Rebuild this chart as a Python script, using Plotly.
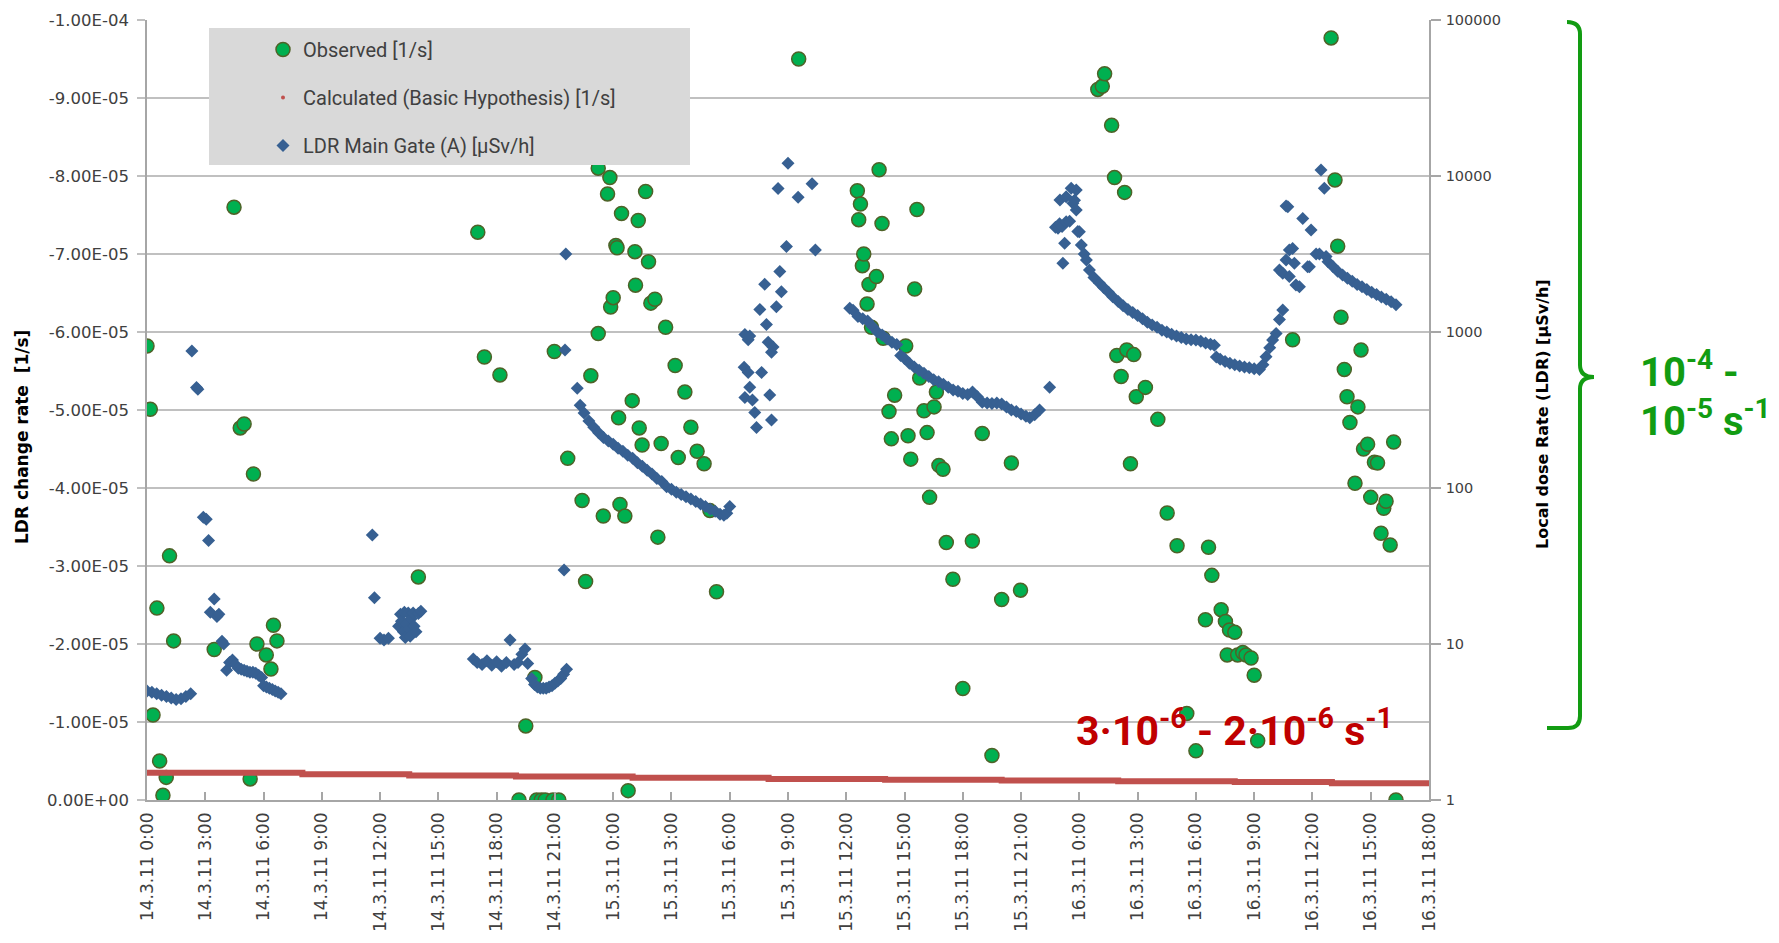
import pandas as pd
import plotly.graph_objects as go

# ---------------- DATA ----------------
START = pd.Timestamp("2011-03-14 00:00")

# Observed LDR change rate, hours after 14.3.11 0:00, values in units of 1e-5 1/s
obs_hours = [0.0, 0.17, 0.31, 0.51, 0.65, 0.82, 0.99, 1.16, 1.37,
             3.46, 4.48, 4.8, 5.0, 5.31, 5.48, 5.66, 6.14, 6.38, 6.51, 6.69,
             13.97,
             17.03, 17.37, 18.17,
             19.15, 19.5, 19.97, 20.06, 20.3, 20.5, 20.9, 21.2,
             20.97, 21.66, 22.4, 22.58, 22.85, 23.23, 23.23, 23.49, 23.71, 23.83, 23.87, 24.0,
             24.14, 24.2, 24.28, 24.35, 24.43, 24.6, 24.77, 24.98, 25.12, 25.15, 25.29, 25.34,
             25.49, 25.67, 25.82, 25.94, 26.15, 26.3, 26.47, 26.7, 27.19, 27.35, 27.69, 28.0,
             28.32, 28.68, 28.98, 29.32,
             33.55,
             36.57, 36.64, 36.73, 36.83, 36.9, 37.07, 37.17, 37.3, 37.55, 37.69, 37.84, 37.9,
             38.2, 38.32, 38.49, 39.06, 39.18, 39.32, 39.52, 39.64, 39.78, 40.0, 40.16, 40.29,
             40.52, 40.64, 40.77, 40.98, 41.15, 41.49, 42.0, 42.49, 43.0, 43.5, 44.0, 44.5, 44.97,
             48.95, 49.18, 49.3, 49.66, 49.81, 49.93, 50.15, 50.33, 50.44, 50.63, 50.8, 50.93,
             51.4, 52.04, 52.52, 53.03, 53.53, 54.0, 54.49, 54.65, 54.82, 55.3, 55.52, 55.61,
             55.73, 56.0, 56.15, 56.41, 56.58, 56.84, 57.0, 57.18,
             58.98, 60.96, 61.16, 61.3, 61.47, 61.64, 61.78, 61.93, 62.19, 62.34, 62.5, 62.63,
             62.84, 63.0, 63.19, 63.35, 63.53, 63.67, 63.79, 64.0, 64.18, 64.3]
obs_rate_1e5 = [-5.82, -5.01, -1.09, -2.46, -0.50, -0.06, -0.29, -3.13, -2.04,
                -1.93, -7.6, -4.77, -4.82, -0.27, -4.18, -2.0, -1.86, -1.68, -2.24, -2.04,
                -2.86,
                -7.28, -5.68, -5.45,
                0.0, -0.95, -1.57, 0.0, 0.0, 0.0, 0.0, 0.0,
                -5.75, -4.38, -3.84, -2.8, -5.44, -5.98, -8.1, -3.64, -7.77, -7.98, -6.32, -6.44,
                -7.11, -7.08, -4.9, -3.79, -7.52, -3.64, -0.12, -5.12, -7.03, -6.6, -7.43, -4.77,
                -4.55, -7.8, -6.9, -6.37, -6.42, -3.37, -4.57, -6.06, -5.57, -4.39, -5.23, -4.78,
                -4.47, -4.31, -3.71, -2.67,
                -9.5,
                -7.81, -7.44, -7.64, -6.85, -7.0, -6.36, -6.61, -6.06, -6.71, -8.08, -7.39, -5.92,
                -4.98, -4.63, -5.19, -5.82, -4.67, -4.37, -6.55, -7.57, -5.41, -4.99, -4.71, -3.88,
                -5.04, -5.23, -4.29, -4.24, -3.3, -2.83, -1.43, -3.32, -4.7, -0.57, -2.57, -4.32, -2.69,
                -9.11, -9.15, -9.31, -8.65, -7.98, -5.7, -5.43, -7.79, -5.77, -4.31, -5.71, -5.17,
                -5.29, -4.88, -3.68, -3.26, -1.11, -0.63, -2.31, -3.24, -2.88, -2.44, -2.29, -1.86,
                -2.18, -2.15, -1.86, -1.89, -1.86, -1.82, -1.6, -0.76,
                -5.9, -9.77, -7.95, -7.1, -6.19, -5.52, -5.17, -4.84, -4.06, -5.04, -5.77, -4.5,
                -4.56, -3.88, -4.33, -4.32, -3.42, -3.74, -3.83, -3.27, -4.59, 0.0]

# Calculated (basic hypothesis), step levels, values in units of 1e-6 1/s
calc_hours = [0, 8, 13.5, 19, 25, 32, 38, 44, 50, 56, 61, 66]
calc_rate_1e6 = [-3.5, -3.3, -3.15, -3.0, -2.85, -2.7, -2.6, -2.5, -2.4, -2.3, -2.15, -2.15]

# LDR Main Gate (A) [uSv/h]
ldr_hours = [0, 0.25, 0.5, 0.75, 1.0, 1.25, 1.5, 1.75, 2.0, 2.25,
             2.31, 2.55, 2.62, 2.9, 3.05, 3.17, 3.26, 3.46, 3.6, 3.7, 3.86, 3.95, 4.1, 4.25,
             4.4, 4.55, 4.7, 4.85, 5.0, 5.15, 5.3, 5.45, 5.6, 5.75, 5.9, 6.0, 6.15, 6.3, 6.45,
             6.6, 6.75, 6.9,
             11.6, 11.71, 12.0, 12.2, 12.43, 12.95, 13.05, 13.1, 13.2, 13.25, 13.3, 13.35, 13.45,
             13.5, 13.55, 13.6, 13.7, 13.75, 13.85, 13.97, 14.1,
             16.8, 17.0, 17.25, 17.5, 17.75, 18.0, 18.25, 18.5, 18.69, 18.9, 19.1, 19.3, 19.46,
             19.6, 19.8, 19.95, 20.1, 20.25, 20.4, 20.55, 20.7, 20.85, 21.0, 21.15, 21.3, 21.45, 21.6,
             21.47, 21.52, 21.56, 22.15, 22.3, 22.5, 22.75, 23.0, 23.25, 23.5, 23.75, 24.0, 24.25,
             24.5, 24.75, 25.0, 25.25, 25.5, 25.75, 26.0, 26.25, 26.5, 26.75, 27.0, 27.25, 27.5,
             27.75, 28.0, 28.25, 28.5, 28.75, 29.0, 29.25, 29.5, 29.7, 29.85, 30.0,
             30.74, 30.78, 30.78, 30.95, 30.95, 31.03, 31.03, 31.17, 31.29, 31.38, 31.55, 31.64,
             31.8, 31.89, 31.98, 32.06, 32.15, 32.15, 32.23, 32.4, 32.49, 32.58, 32.66, 32.92,
             33.0, 33.52, 34.24, 34.41,
             36.18, 36.35, 36.6, 36.85, 37.1, 37.35, 37.6, 37.85, 38.1, 38.35, 38.6, 38.8, 39.0,
             39.25, 39.5, 39.75, 40.0, 40.25, 40.5, 40.75, 41.0, 41.25, 41.5, 41.75, 42.0, 42.25,
             42.5, 42.75, 43.0, 43.25, 43.5, 43.75, 44.0, 44.25, 44.5, 44.75, 45.0, 45.25, 45.45,
             45.7, 45.95, 46.47,
             46.77, 46.9, 46.98, 47.0, 47.11, 47.15, 47.24, 47.32, 47.32, 47.5, 47.58, 47.67,
             47.75, 47.84, 47.84, 47.92, 48.0,
             48.1, 48.25, 48.36, 48.52, 48.75, 49.04, 49.25, 49.5, 49.72, 50.0, 50.25, 50.5,
             50.75, 51.0, 51.25, 51.5, 51.75, 52.0, 52.25, 52.5, 52.75, 53.0, 53.25, 53.5, 53.75,
             54.0, 54.25, 54.5, 54.75, 54.95, 55.05, 55.25, 55.5, 55.75, 56.0, 56.25, 56.5,
             56.75, 57.0, 57.27, 57.45, 57.61, 57.8, 57.95, 58.13, 58.3, 58.47,
             58.3, 58.47, 58.64, 58.64, 58.73, 58.81, 58.81, 58.98, 59.07, 59.15, 59.33, 59.5,
             59.75, 59.84, 59.93, 60.19, 60.36, 60.44, 60.61, 60.7,
             60.8, 61.05, 61.3, 61.55, 61.8, 62.05, 62.3, 62.55, 62.8, 63.05, 63.3, 63.55, 63.8,
             64.05, 64.3]
ldr_values = [5.0, 4.9, 4.8, 4.7, 4.6, 4.5, 4.4, 4.45, 4.6, 4.8,
              755, 440, 430, 65, 63, 46, 16, 19.4, 15, 15.5, 10.4, 10, 6.8, 7.6,
              7.9, 7.4, 7.0, 6.9, 6.8, 6.7, 6.6, 6.6, 6.5, 6.3, 6.1, 5.4, 5.3, 5.2, 5.1,
              5.0, 4.9, 4.8,
              50, 19.8, 10.9, 10.6, 10.9, 13, 15.5, 14, 12, 16, 11, 13.5, 15.8,
              12.5, 11.2, 14.5, 15.8, 13, 12, 15.7, 16.2,
              8.0, 7.6, 7.4, 7.8, 7.3, 7.7, 7.2, 7.6, 10.6, 7.4, 7.6, 8.6, 9.3,
              7.5, 6.0, 5.5, 5.3, 5.2, 5.2, 5.2, 5.3, 5.4, 5.6, 5.8, 6.0, 6.4, 6.9,
              29.8, 767, 3160, 436, 339, 302, 269, 245, 226, 211, 200, 191, 180,
              172, 162, 155, 145, 138, 130, 123, 115, 110, 102, 98, 94, 91,
              88, 85, 82, 79, 76, 73, 71, 68, 67, 69, 76,
              594, 964, 381, 893, 551, 942, 442, 366, 305, 244, 1396, 551,
              2023, 1117, 861, 395, 743, 273, 800, 1449, 8300, 2438, 1811, 3532,
              12050, 7311, 8933, 3357,
              1419, 1380, 1259, 1216, 1175, 1084, 1000, 955, 902, 861, 832, 708, 676,
              631, 596, 569, 543, 519, 495, 479, 462, 442, 425, 417, 404, 398,
              412, 385, 355, 351, 348, 351, 345, 331, 316, 309, 298, 288, 282,
              295, 316, 442,
              4690, 4624, 4940, 7015, 4750, 2754, 3700, 7360, 5093, 5130, 8337, 6683,
              7000, 8130, 6053, 4416, 4396,
              3614, 3162, 2897, 2495, 2239, 2051, 1928, 1799, 1683, 1567, 1472, 1396,
              1334, 1274, 1216, 1153, 1109, 1072, 1028, 1000, 966, 944, 923, 902, 891,
              887, 871, 851, 836, 822, 692, 668, 646, 631, 617, 605, 597,
              589, 582, 575, 617, 695, 794, 889, 979, 1202, 1384,
              2495, 2377, 2897, 6427, 6353, 2265, 3357, 3436, 2754, 2000, 1950, 5346,
              2624, 2624, 4508, 3162, 3162, 10915, 8337, 3048,
              2818, 2630, 2455, 2317, 2213, 2113, 2018, 1950, 1871, 1799, 1738, 1679, 1622,
              1560, 1496]

# axis ticks
x_tick_hours = list(range(0, 67, 3))
x_tick_labels = ["14.3.11 0:00", "14.3.11 3:00", "14.3.11 6:00", "14.3.11 9:00",
                 "14.3.11 12:00", "14.3.11 15:00", "14.3.11 18:00", "14.3.11 21:00",
                 "15.3.11 0:00", "15.3.11 3:00", "15.3.11 6:00", "15.3.11 9:00",
                 "15.3.11 12:00", "15.3.11 15:00", "15.3.11 18:00", "15.3.11 21:00",
                 "16.3.11 0:00", "16.3.11 3:00", "16.3.11 6:00", "16.3.11 9:00",
                 "16.3.11 12:00", "16.3.11 15:00", "16.3.11 18:00"]
y_tick_vals = [0, -1e-5, -2e-5, -3e-5, -4e-5, -5e-5, -6e-5, -7e-5, -8e-5, -9e-5, -1e-4]
y_tick_labels = ["0.00E+00", "-1.00E-05", "-2.00E-05", "-3.00E-05", "-4.00E-05", "-5.00E-05",
                 "-6.00E-05", "-7.00E-05", "-8.00E-05", "-9.00E-05", "-1.00E-04"]
y2_tick_vals = [1, 10, 100, 1000, 10000, 100000]
y2_tick_labels = ["1", "10", "100", "1000", "10000", "100000"]

# ---------------- FIGURE ----------------
def t(hours):
    return START + pd.to_timedelta(pd.Series(hours), unit="h")

# page body has an 8px margin: figure is drawn from screen (8,8)
OFF = 8
SW, SH = 1779, 943                 # screen size
PL, PR, PT, PB = 147, 1429, 20, 800  # plot area in screen pixels
W, H = SW - OFF, SH - OFF

def px(xp):
    return (xp - PL) / (PR - PL)

def py(yp):
    return (PB - yp) / (PB - PT)

SANS = "DejaVu Sans, Verdana, sans-serif"
LEG = "Roboto, Liberation Sans, sans-serif"
GREEN = "#00b050"
BLUE = "#376092"
RED = "#c0504d"
BRACE = "#129c12"

fig = go.Figure()
fig.add_trace(go.Scatter(
    x=t(obs_hours), y=[v * 1e-5 for v in obs_rate_1e5], mode="markers",
    name="Observed [1/s]", legendgroup="a", legendrank=1,
    marker=dict(symbol="circle", size=14, color=GREEN, line=dict(color="#4f6228", width=1.5))))
fig.add_trace(go.Scatter(
    x=t(calc_hours), y=[v * 1e-6 for v in calc_rate_1e6], mode="lines",
    line=dict(color=RED, width=6, shape="hv"), showlegend=False, hoverinfo="skip"))
fig.add_trace(go.Scatter(
    x=[None], y=[None], mode="markers", name="Calculated (Basic Hypothesis) [1/s]",
    legendgroup="b", legendrank=2, marker=dict(symbol="circle", size=4, color=RED)))
fig.add_trace(go.Scatter(
    x=t(ldr_hours), y=ldr_values, mode="markers", yaxis="y2",
    name="LDR Main Gate (A) [µSv/h]", legendgroup="c", legendrank=3,
    marker=dict(symbol="diamond", size=10, color=BLUE, line=dict(width=0))))

fig.update_layout(
    width=W, height=H,
    margin=dict(l=PL - OFF, r=SW - PR, t=PT - OFF, b=SH - PB, autoexpand=False),
    paper_bgcolor="white", plot_bgcolor="white",
    font=dict(family=SANS, size=16, color="#404040"),
    showlegend=True,
    legend=dict(x=px(263), y=py(30), xanchor="left", yanchor="top",
                bgcolor="rgba(0,0,0,0)", font=dict(family=LEG, size=20, color="#404040"),
                tracegroupgap=19, itemsizing="trace"),
    xaxis=dict(type="date", range=[START, START + pd.Timedelta(hours=66)],
               tickvals=t(x_tick_hours), ticktext=x_tick_labels, tickangle=-90,
               tickfont=dict(family=SANS, size=17, color="#404040"),
               ticks="inside", ticklen=8, tickcolor="#a6a6a6", tickwidth=1.5,
               showgrid=False, showline=True, linecolor="#a6a6a6", linewidth=1.5,
               zeroline=False, ticklabelstandoff=4),
    yaxis=dict(range=[0, -1e-4], tickvals=y_tick_vals, ticktext=y_tick_labels,
               tickfont=dict(family=SANS, size=16.5, color="#404040"),
               showgrid=True, gridcolor="#c0c0c0", gridwidth=2,
               ticks="outside", ticklen=8, tickcolor="#c0c0c0", tickwidth=2,
               showline=True, linecolor="#a6a6a6", linewidth=1.5, zeroline=False,
               ticklabelstandoff=5),
    yaxis2=dict(type="log", range=[0, 5], overlaying="y", side="right",
                tickvals=y2_tick_vals, ticktext=y2_tick_labels,
                tickfont=dict(family=SANS, size=14.5, color="#404040"),
                showgrid=False, ticks="outside", ticklen=10, tickcolor="#a6a6a6", tickwidth=1.5,
                showline=True, linecolor="#a6a6a6", linewidth=1.5, zeroline=False,
                ticklabelstandoff=2),
)

# legend background box (drawn above data, legend text on top)
fig.add_shape(type="rect", xref="paper", yref="paper",
              x0=px(209), x1=px(690), y0=py(165), y1=py(28),
              fillcolor="#d9d9d9", line=dict(width=0), layer="above")

# green brace
bx, tip = 1580, 1594
brace = (f"M {px(1567)},{py(22)} Q {px(bx)},{py(22)} {px(bx)},{py(34)} "
         f"L {px(bx)},{py(365)} Q {px(bx)},{py(377)} {px(tip)},{py(377)} "
         f"Q {px(bx)},{py(377)} {px(bx)},{py(389)} L {px(bx)},{py(716)} "
         f"Q {px(bx)},{py(728)} {px(1568)},{py(728)} L {px(1547)},{py(728)}")
fig.add_shape(type="path", xref="paper", yref="paper", path=brace,
              line=dict(color=BRACE, width=4), layer="above")

BIG = "Roboto, Liberation Sans, sans-serif"
fig.add_annotation(xref="paper", yref="paper", x=px(22), y=py(437), showarrow=False,
                   xanchor="center", yanchor="middle",
                   text="<b>LDR change rate  [1/s]</b>", textangle=-90,
                   font=dict(family=SANS, size=17, color="#000000"))
fig.add_annotation(xref="paper", yref="paper", x=px(1542), y=py(414), showarrow=False,
                   xanchor="center", yanchor="middle",
                   text="<b>Local dose Rate (LDR) [µSv/h]</b>", textangle=-90,
                   font=dict(family=SANS, size=16, color="#000000"))
fig.add_annotation(xref="paper", yref="paper", x=px(1234), y=py(728), showarrow=False,
                   xanchor="center", yanchor="middle",
                   text="<b>3·10<sup>-6</sup> - 2·10<sup>-6</sup> s<sup>-1</sup></b>",
                   font=dict(family=BIG, size=41, color="#c00000"))
fig.add_annotation(xref="paper", yref="paper", x=px(1638), y=py(369), showarrow=False,
                   xanchor="left", yanchor="middle", text="<b>10<sup>-4</sup> -</b>",
                   font=dict(family=BIG, size=40, color=BRACE))
fig.add_annotation(xref="paper", yref="paper", x=px(1638), y=py(419), showarrow=False,
                   xanchor="left", yanchor="middle", text="<b>10<sup>-5</sup> s<sup>-1</sup></b>",
                   font=dict(family=BIG, size=40, color=BRACE))

fig.write_html("out.html")
